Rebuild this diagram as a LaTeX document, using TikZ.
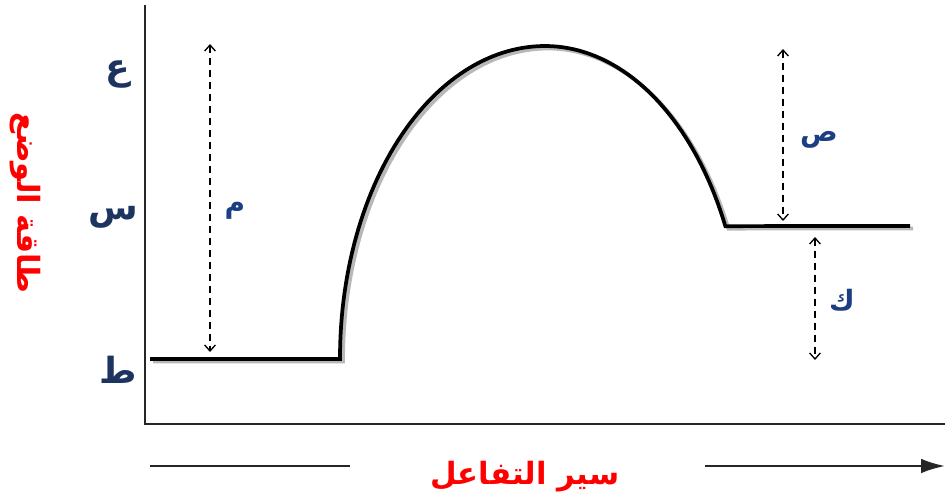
\documentclass[tikz,border=0pt]{standalone}
\usepackage{fontspec}
\newfontfamily\arabicfont[Script=Arabic]{DejaVu Sans}
\TeXXeTstate=1
\usetikzlibrary{arrows.meta}
\definecolor{lvl}{RGB}{30,52,96}
\definecolor{lbl}{RGB}{28,62,130}
\begin{document}
\begin{tikzpicture}[x=0.75pt,y=-0.75pt,
  axis/.style={line width=1.2pt,draw=black!85},
  curve/.style={line width=2.8pt,line join=miter},
  shadowline/.style={line width=2.8pt,draw=black!28},
  dim/.style={dash pattern=on 5.5pt off 3.5pt,line width=1pt,{Straight Barb[length=4.5pt,width=8pt]}-{Straight Barb[length=4.5pt,width=8pt]}},
  lvltxt/.style={text=lvl,font=\arabicfont\bfseries\fontsize{27}{30}\selectfont,inner sep=0pt},
  dimtxt/.style={text=lbl,font=\arabicfont\bfseries\fontsize{21}{24}\selectfont,inner sep=0pt},
  redtxt/.style={text=red,font=\arabicfont\bfseries\fontsize{23}{26}\selectfont,inner sep=0pt}]
\useasboundingbox (0,0) rectangle (945,500);
% axes
\coordinate (top) at (145,5);
\coordinate (org) at (145,424);
\coordinate (xend) at (945,424);
\draw[axis] (top) -- (org) -- (xend);
% shadow of curve
\begin{scope}[shift={(3,2.5)}]
\draw[shadowline] (150,359) -- (340,359)
  -- plot[domain=180:270,samples=60] ({545+205*cos(\x)},{358+312*sin(\x)})
  -- plot[domain=270:335,samples=40] ({545+199*cos(\x)},{358+312*sin(\x)})
  -- (910,226);
\end{scope}
% curve
\draw[curve] (150,359) -- (340,359)
  -- plot[domain=180:270,samples=60] ({545+205*cos(\x)},{358+312*sin(\x)})
  -- plot[domain=270:335,samples=40] ({545+199*cos(\x)},{358+312*sin(\x)})
  -- (910,226);
% level labels
\node[lvltxt] (E) at (118,74) {\beginR ع\endR};
\node[lvltxt] (S) at (113,217) {\beginR س\endR};
\node[lvltxt] (T) at (118,370) {\beginR ط\endR};
% y label
\node[redtxt,rotate=-90] (ylab) at (25,203) {\beginR طاقة الوضع\endR};
% dimension arrows
\coordinate (m1) at (210,44);
\coordinate (m2) at (210,352);
\draw[dim] (m1) -- (m2);
\node[dimtxt] (M) at (235,211) {\beginR م\endR};
\coordinate (s1) at (783,49);
\coordinate (s2) at (783,221);
\draw[dim] (s1) -- (s2);
\node[dimtxt] (Sad) at (819,140) {\beginR ص\endR};
\coordinate (k1) at (815,237);
\coordinate (k2) at (815,360);
\draw[dim] (k1) -- (k2);
\node[dimtxt] (K) at (842,300) {\beginR ك\endR};
% reaction progress
\coordinate (b1) at (150,466);
\coordinate (b2) at (350,466);
\coordinate (b3) at (705,466);
\coordinate (b4) at (945,466);
\draw[axis,line width=1.6pt] (b1) -- (b2);
\draw[axis,line width=1.6pt,-{Latex[length=18pt,width=11pt]}] (b3) -- (b4);
\node[redtxt] (xlab) at (525,477) {\beginR سير التفاعل\endR};
\end{tikzpicture}
\end{document}
